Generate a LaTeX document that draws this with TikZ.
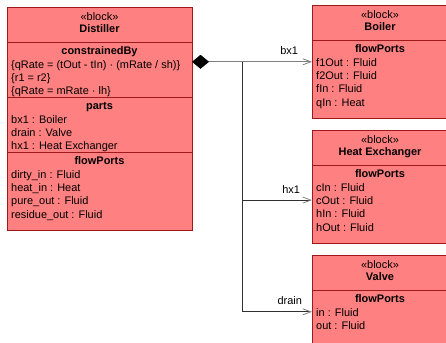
\documentclass[tikz,border=0pt]{standalone}
\usepackage{fontspec}
\setmainfont{Liberation Sans}
\usepackage{tikz}
\usetikzlibrary{positioning,calc,arrows.meta}
\definecolor{blockfill}{HTML}{FF8080}
\definecolor{blockline}{HTML}{A0181C}
\definecolor{linkgray}{HTML}{808080}
\definecolor{linkdark}{HTML}{303030}
\def\DistW{185bp}
\def\PartW{136bp}
\def\HeadH{35bp}
\def\FlowH{78bp}
\tikzset{
  blockpart/.style={draw=blockline, fill=blockfill, line width=0.9bp, inner sep=0pt, outer sep=0pt, anchor=north west},
  headtext/.style={align=center, inner sep=0pt, anchor=north, font=\fontsize{11}{12}\selectfont},
  comptitle/.style={inner sep=0pt, anchor=north, text height=8bp, text depth=3bp, font=\fontsize{11}{13.3}\selectfont\bfseries},
  compitems/.style={align=left, inner sep=0pt, anchor=north west, font=\fontsize{11}{13.3}\selectfont},
  partlink/.style={draw=linkgray, line width=0.8bp, -{Straight Barb[length=8bp,width=6bp,linkgray]}},
  branchlink/.style={partlink, draw=linkdark},
  linklabel/.style={inner sep=0pt, anchor=base, yshift=7bp, font=\fontsize{11}{13}\selectfont},
}
\begin{document}
\begin{tikzpicture}[x=1bp,y=-1bp]
  \useasboundingbox (0,0) rectangle (446,342);
  % Distiller
  \node[blockpart, minimum width=\DistW, minimum height=\HeadH] (distH) at (7,7) {};
  \node[blockpart, minimum width=\DistW, minimum height=55bp, below=0pt of distH] (distCB) {};
  \node[blockpart, minimum width=\DistW, minimum height=55bp, below=0pt of distCB] (distPA) {};
  \node[blockpart, minimum width=\DistW, minimum height=\FlowH, below=0pt of distPA] (distFP) {};
  \node[headtext] (distHT) at ($(distH.north)+(0,5.5)$) {«block»\\\textbf{Distiller}};
  \node[comptitle] (distCBT) at ($(distCB.north)+(0,4.5)$) {constrainedBy};
  \node[compitems] (distCBI) at ($(distCB.north west |- distCBT.south)+(4,2.3)$)
    {\{qRate = (tOut - tIn) · (mRate / sh)\}\\\{r1 = r2\}\\\{qRate = mRate · lh\}};
  \node[comptitle] (distPAT) at ($(distPA.north)+(0,4.5)$) {parts};
  \node[compitems] (distPAI) at ($(distPA.north west |- distPAT.south)+(4,2.3)$)
    {bx1 : Boiler\\drain : Valve\\hx1 : Heat Exchanger};
  \node[comptitle] (distFPT) at ($(distFP.north)+(0,4.5)$) {flowPorts};
  \node[compitems] (distFPI) at ($(distFP.north west |- distFPT.south)+(4,2.3)$)
    {dirty\_in : Fluid\\heat\_in : Heat\\pure\_out : Fluid\\residue\_out : Fluid};
  % Boiler
  \node[blockpart, minimum width=\PartW, minimum height=\HeadH] (boilerH) at (312,5) {};
  \node[blockpart, minimum width=\PartW, minimum height=\FlowH, below=0pt of boilerH] (boilerFP) {};
  \node[headtext] (boilerHT) at ($(boilerH.north)+(0,5.5)$) {«block»\\\textbf{Boiler}};
  \node[comptitle] (boilerFPT) at ($(boilerFP.north)+(0,4.5)$) {flowPorts};
  \node[compitems] (boilerFPI) at ($(boilerFP.north west |- boilerFPT.south)+(4,2.3)$)
    {f1Out : Fluid\\f2Out : Fluid\\fIn : Fluid\\qIn : Heat};
  % Heat Exchanger
  \node[blockpart, minimum width=\PartW, minimum height=\HeadH] (hxH) at (312,130) {};
  \node[blockpart, minimum width=\PartW, minimum height=\FlowH, below=0pt of hxH] (hxFP) {};
  \node[headtext] (hxHT) at ($(hxH.north)+(0,5.5)$) {«block»\\\textbf{Heat Exchanger}};
  \node[comptitle] (hxFPT) at ($(hxFP.north)+(0,4.5)$) {flowPorts};
  \node[compitems] (hxFPI) at ($(hxFP.north west |- hxFPT.south)+(4,2.3)$)
    {cIn : Fluid\\cOut : Fluid\\hIn : Fluid\\hOut : Fluid};
  % Valve
  \node[blockpart, minimum width=\PartW, minimum height=\HeadH] (valveH) at (312,255) {};
  \node[blockpart, minimum width=\PartW, minimum height=60bp, below=0pt of valveH] (valveFP) {};
  \node[headtext] (valveHT) at ($(valveH.north)+(0,5.5)$) {«block»\\\textbf{Valve}};
  \node[comptitle] (valveFPT) at ($(valveFP.north)+(0,4.5)$) {flowPorts};
  \node[compitems] (valveFPI) at ($(valveFP.north west |- valveFPT.south)+(4,2.3)$)
    {in : Fluid\\out : Fluid};
  % 
  \coordinate (bx1in) at ($(boilerFP.north west)+(0,21.8)$);
  \coordinate (hx1in) at ($(hxFP.north west)+(0,35.1)$);
  \coordinate (drainin) at ($(valveFP.north west)+(0,21.8)$);
  \coordinate (src) at (distCB.east |- bx1in);
  \coordinate (hub) at ($(src)!0.42!(bx1in)$);
  % 
  \draw[branchlink] (hub) |- node[linklabel, pos=0.85] {hx1} (hx1in);
  \draw[branchlink] (hub) |- node[linklabel, pos=0.84] {drain} (drainin);
  \draw[partlink, {Diamond[length=17bp,width=14bp,black]}-{Straight Barb[length=8bp,width=6bp,linkgray]}]
    (src) -- node[linklabel, pos=0.81] {bx1} (bx1in);
\end{tikzpicture}
\end{document}
